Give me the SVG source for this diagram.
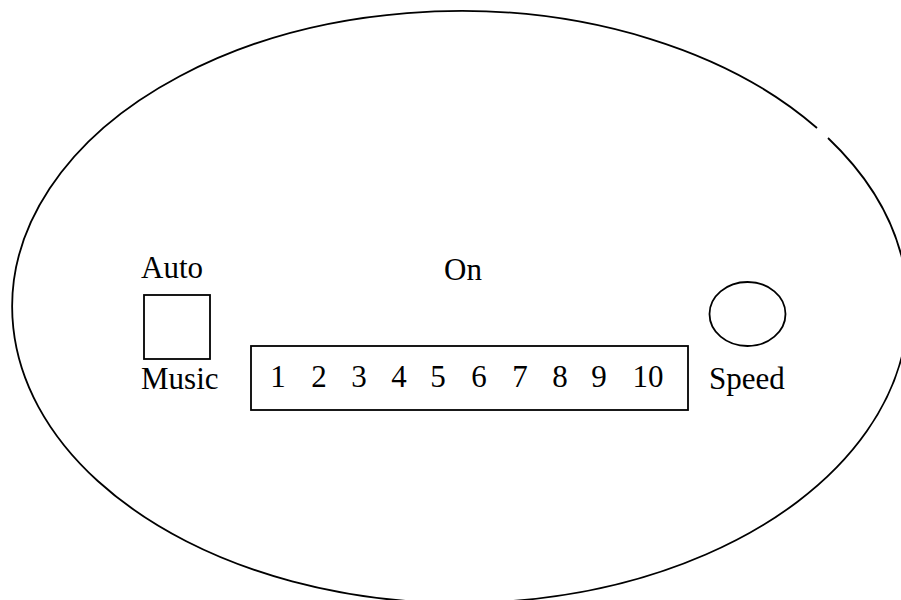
<svg xmlns="http://www.w3.org/2000/svg" width="901" height="600" viewBox="0 0 901 600">
<style>
.ln{fill:none;stroke:#000;stroke-width:1.8}
.t{font-family:"Liberation Serif","Times New Roman",serif;font-size:31px;fill:#000}
.d{font-family:"Liberation Serif","Times New Roman",serif;font-size:31px;fill:#000;text-anchor:middle}
</style>
<rect width="901" height="600" fill="#fff"/>
<g id="body">
<path class="ln" d="M 828 138 A 448 296 0 1 1 817 128"/>
</g>
<g id="auto-music">
<text class="t" x="141" y="278">Auto</text>
<rect class="ln" x="144" y="295" width="66" height="64"/>
<text class="t" x="141" y="389">Music</text>
</g>
<g id="on-scale">
<text class="t" x="444" y="280">On</text>
<rect class="ln" x="251" y="346" width="437" height="64"/>
<text class="d" x="278" y="387">1</text>
<text class="d" x="319" y="387">2</text>
<text class="d" x="359" y="387">3</text>
<text class="d" x="399" y="387">4</text>
<text class="d" x="438" y="387">5</text>
<text class="d" x="479" y="387">6</text>
<text class="d" x="520" y="387">7</text>
<text class="d" x="560" y="387">8</text>
<text class="d" x="599" y="387">9</text>
<text class="d" x="648" y="387">10</text>
</g>
<g id="speed">
<ellipse class="ln" cx="747.5" cy="314" rx="38" ry="32"/>
<text class="t" x="709" y="389">Speed</text>
</g>
</svg>
